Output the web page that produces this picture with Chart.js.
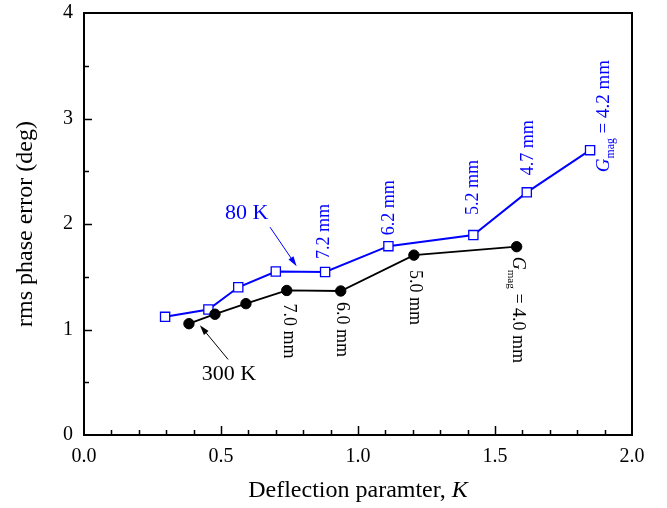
<!DOCTYPE html>
<html lang="en">
<head>
<meta charset="UTF-8">
<title>rms phase error vs deflection parameter</title>
<style>
  body { margin: 0; background: #fff; }
  .chartBox { width: 667px; height: 508px; }
</style>
</head>
<body>
<div class="chartBox">
  <canvas id="myChart"></canvas>
</div>
<script src="https://cdn.jsdelivr.net/npm/chart.js"></script>
<script>
// 80 K measurements (open squares)
const k80 = [0.296, 0.454, 0.563, 0.700, 0.880, 1.111, 1.421, 1.616, 1.847];
const err80 = [1.12, 1.19, 1.40, 1.55, 1.545, 1.79, 1.895, 2.30, 2.70];
const gap80 = [null, null, null, null, '7.2 mm', '6.2 mm', '5.2 mm', '4.7 mm', '4.2 mm'];

// 300 K measurements (filled circles)
const k300 = [0.383, 0.478, 0.591, 0.740, 0.937, 1.204, 1.579];
const err300 = [1.055, 1.145, 1.245, 1.37, 1.365, 1.705, 1.785];
const gap300 = [null, null, null, '7.0 mm', '6.0 mm', '5.0 mm', '4.0 mm'];

const xTicks = [0.0, 0.5, 1.0, 1.5, 2.0];
const yTicks = [0, 1, 2, 3, 4];

// pixel nudges for the gap labels (dx sideways, dy along the text)
const off80 = [null, null, null, null, [-2, -13], [0, -11], [-1, -20], [0, -17], [13, 22]];
const off300 = [null, null, null, [3, 13], [2, 11], [2, 15], [2, 10]];

const SERIF = "'Liberation Serif', 'Times New Roman', serif";
const BLUE = '#0000ff';

const pts = (xs, ys) => xs.map((v, i) => ({ x: v, y: ys[i] }));

// draws text made of pieces; sub pieces are smaller and dropped below the baseline
function richText(ctx, parts, fs) {
  let cx = 0;
  parts.forEach(p => {
    const size = p.sub ? fs * 0.62 : fs;
    ctx.font = (p.italic ? 'italic ' : '') + size + 'px ' + SERIF;
    ctx.fillText(p.t, cx, p.sub ? fs * 0.28 : 0);
    cx += ctx.measureText(p.t).width;
  });
}

function gapParts(label, last) {
  if (!last) return [{ t: label }];
  return [{ t: 'G', italic: true }, { t: 'mag', sub: true }, { t: ' = ' + label }];
}

function arrow(ctx, x0, y0, x1, y1, color) {
  const ang = Math.atan2(y1 - y0, x1 - x0);
  const hl = 10, hw = 3;
  ctx.strokeStyle = color;
  ctx.fillStyle = color;
  ctx.lineWidth = 1;
  ctx.beginPath();
  ctx.moveTo(x0, y0);
  ctx.lineTo(x1 - hl * 0.8 * Math.cos(ang), y1 - hl * 0.8 * Math.sin(ang));
  ctx.stroke();
  ctx.beginPath();
  ctx.moveTo(x1, y1);
  ctx.lineTo(x1 - hl * Math.cos(ang) + hw * Math.sin(ang), y1 - hl * Math.sin(ang) - hw * Math.cos(ang));
  ctx.lineTo(x1 - hl * Math.cos(ang) - hw * Math.sin(ang), y1 - hl * Math.sin(ang) + hw * Math.cos(ang));
  ctx.closePath();
  ctx.fill();
}

const decorations = {
  id: 'decorations',
  afterDraw(chart) {
    const { ctx, chartArea: a, scales: { x, y } } = chart;
    ctx.save();

    // frame and inward ticks
    ctx.strokeStyle = '#000';
    ctx.lineWidth = 2;
    ctx.strokeRect(a.left, a.top, a.right - a.left, a.bottom - a.top);
    ctx.lineWidth = 1.5;
    ctx.beginPath();
    for (let i = 1; i < 20; i++) {
      const px = Math.round(x.getPixelForValue(i / 10)) + 0.5;
      ctx.moveTo(px, a.bottom);
      ctx.lineTo(px, a.bottom - (i % 5 === 0 ? 9 : 5));
    }
    for (let i = 1; i < 8; i++) {
      const py = Math.round(y.getPixelForValue(i / 2)) + 0.5;
      ctx.moveTo(a.left, py);
      ctx.lineTo(a.left + (i % 2 === 0 ? 8 : 5), py);
    }
    ctx.stroke();

    // axis titles
    ctx.fillStyle = '#000';
    ctx.textBaseline = 'middle';
    ctx.textAlign = 'center';
    ctx.font = '24px ' + SERIF;
    ctx.save();
    ctx.translate(26, (a.top + a.bottom) / 2);
    ctx.rotate(-Math.PI / 2);
    ctx.fillText('rms phase error (deg)', 0, 0);
    ctx.restore();

    ctx.textAlign = 'left';
    const t1 = 'Deflection paramter, ';
    ctx.font = '24px ' + SERIF;
    const w1 = ctx.measureText(t1).width;
    ctx.font = 'italic 24px ' + SERIF;
    const w2 = ctx.measureText('K').width;
    const sx = (a.left + a.right) / 2 - (w1 + w2) / 2;
    ctx.font = '24px ' + SERIF;
    ctx.fillText(t1, sx, 491);
    ctx.font = 'italic 24px ' + SERIF;
    ctx.fillText('K', sx + w1, 491);

    // gap labels, rotated along the points
    ctx.textBaseline = 'alphabetic';
    const fs = 18;
    gap300.forEach((g, i) => {
      if (!g) return;
      const px = x.getPixelForValue(k300[i]) + off300[i][0];
      const py = y.getPixelForValue(err300[i]) + off300[i][1];
      ctx.save();
      ctx.fillStyle = '#000';
      ctx.translate(px, py);
      ctx.rotate(Math.PI / 2);
      ctx.translate(0, fs * 0.33);
      richText(ctx, gapParts(g, i === gap300.length - 1), fs);
      ctx.restore();
    });
    gap80.forEach((g, i) => {
      if (!g) return;
      const px = x.getPixelForValue(k80[i]) + off80[i][0];
      const py = y.getPixelForValue(err80[i]) + off80[i][1];
      const last = i === gap80.length - 1;
      ctx.save();
      ctx.fillStyle = BLUE;
      ctx.translate(px, py);
      ctx.rotate(-Math.PI / 2);
      ctx.translate(0, fs * 0.33);
      richText(ctx, gapParts(g, last), last ? 19 : fs);
      ctx.restore();
    });

    // series callouts
    ctx.textAlign = 'center';
    ctx.textBaseline = 'middle';
    ctx.font = '22px ' + SERIF;
    ctx.fillStyle = BLUE;
    ctx.fillText('80 K', x.getPixelForValue(0.594), y.getPixelForValue(2.10));
    arrow(ctx, x.getPixelForValue(0.679), y.getPixelForValue(1.97),
      x.getPixelForValue(0.776), y.getPixelForValue(1.60), BLUE);
    ctx.fillStyle = '#000';
    ctx.fillText('300 K', x.getPixelForValue(0.529), y.getPixelForValue(0.58));
    arrow(ctx, x.getPixelForValue(0.526), y.getPixelForValue(0.716),
      x.getPixelForValue(0.423), y.getPixelForValue(1.04), '#000');

    ctx.restore();
  }
};

// keep the plot box where the layout padding puts it
function noEdgePadding(s) {
  s.paddingTop = 0;
  s.paddingBottom = 0;
  s.paddingLeft = 0;
  s.paddingRight = 0;
}

const ctx = document.getElementById('myChart').getContext('2d');
const myChart = new Chart(ctx, {
  type: 'scatter',
  data: {
    datasets: [{
      label: '300 K',
      data: pts(k300, err300),
      showLine: true,
      borderColor: '#000',
      borderWidth: 1.8,
      pointStyle: 'circle',
      pointRadius: 5.2,
      pointBackgroundColor: '#000',
      pointBorderColor: '#000',
      pointBorderWidth: 1
    }, {
      label: '80 K',
      data: pts(k80, err80),
      showLine: true,
      borderColor: BLUE,
      borderWidth: 2,
      pointStyle: 'rect',
      pointRadius: 6.5,
      pointBackgroundColor: '#fff',
      pointBorderColor: BLUE,
      pointBorderWidth: 1.3
    }]
  },
  options: {
    responsive: true,
    maintainAspectRatio: false,
    animation: false,
    layout: { padding: { top: 13, right: 35, left: 0, bottom: 0 } },
    plugins: { legend: { display: false }, tooltip: { enabled: false } },
    scales: {
      x: {
        type: 'linear',
        min: 0, max: 2,
        afterBuildTicks: s => { s.ticks = xTicks.map(v => ({ value: v })); },
        afterFit: s => { s.height = 73; noEdgePadding(s); },
        grid: { display: false, drawTicks: false },
        border: { display: false },
        ticks: {
          padding: 10,
          color: '#000',
          font: { family: SERIF, size: 20 },
          callback: v => v.toFixed(1)
        }
      },
      y: {
        type: 'linear',
        min: 0, max: 4,
        afterBuildTicks: s => { s.ticks = yTicks.map(v => ({ value: v })); },
        afterFit: s => { s.width = 84; noEdgePadding(s); },
        grid: { display: false, drawTicks: false },
        border: { display: false },
        ticks: {
          padding: 11,
          color: '#000',
          font: { family: SERIF, size: 20 },
          callback: v => String(v)
        }
      }
    }
  },
  plugins: [decorations]
});
</script>
</body>
</html>
